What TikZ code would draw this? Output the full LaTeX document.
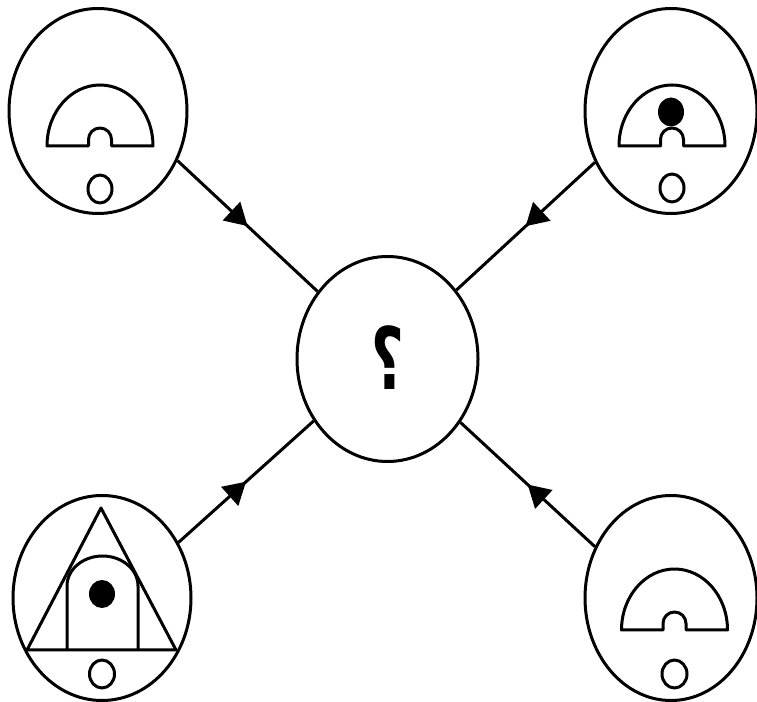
\documentclass[tikz,border=0pt]{standalone}
\usepackage{fontspec}
\newfontfamily\qfont{DejaVu Sans}
\usepackage{tikz}
\usetikzlibrary{shapes.geometric,arrows.meta,decorations.markings}

% gauge: half disc with a small notch, base centre at (#1,#2)
\newcommand{\gauge}[2]{%
  \draw[thk, shift={(#1,#2)}] (-53,0) arc[start angle=180, end angle=0, x radius=53, y radius=61]
    -- (11.5,0) -- (11.5,6.5) arc[start angle=0, end angle=180, radius=11.5] -- (-11.5,0) -- cycle;}

\begin{document}
\begin{tikzpicture}[x=1pt, y=1pt,
  thk/.style={line width=3pt, line join=round},
  bubble/.style={ellipse, draw, thk, minimum width=178pt, minimum height=205pt, inner sep=0pt},
  flow/.style={thk, postaction={decorate},
    decoration={markings, mark=at position 0.5 with {\arrow{Triangle[length=22pt,width=25pt]}}}},
]
\useasboundingbox (0,0) rectangle (757,701);

\node[bubble] (tl) at (98,590)   {};
\node[bubble, minimum width=172pt] (tr) at (671,590) {};
\node[bubble] (bl) at (102,103)  {};
\node[bubble, minimum width=172pt] (br) at (671,103) {};
\node[bubble, minimum width=181pt] (ask) at (387.5,342) {};
\node (qm) at (388,343)
  {\fontsize{86}{86}\selectfont\qfont\bfseries\scalebox{-0.66}[1]{?}};

% top left
\gauge{100}{555}
\draw[thk] (100,512) ellipse (12 and 14);
% top right
\gauge{672}{555}
\fill (671,589) ellipse (13 and 14.5);
\draw[thk] (672,513) ellipse (12 and 14);
% bottom left
\draw[thk] (27,51) -- (101,193) -- (176,51) -- cycle;
\draw[thk] (67,51) -- (67,115) arc[start angle=180, end angle=0, x radius=35.5, y radius=30] -- (138,51);
\fill (102,107) ellipse (13 and 14);
\draw[thk] (102,27) ellipse (12.5 and 14);
% bottom right
\gauge{674.5}{71}
\draw[thk] (674.5,27) ellipse (12.5 and 14);

\draw[flow] (tl.-32) -- (ask.136);
\draw[flow] (tr.-146) -- (ask.45);
\draw[flow] (bl.36) -- (ask.-140);
\draw[flow] (br.146) -- (ask.-41);
\end{tikzpicture}
\end{document}
